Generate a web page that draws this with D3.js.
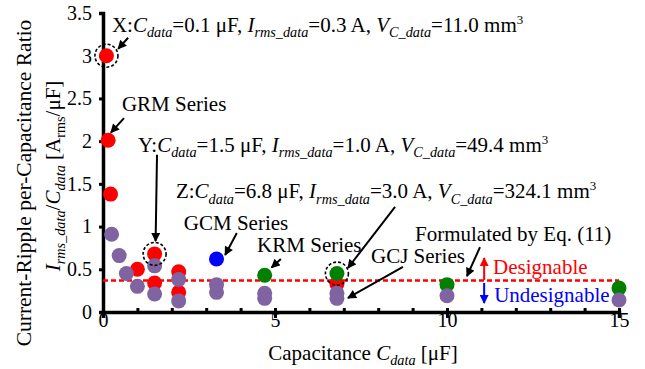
<!DOCTYPE html>
<html>
<head>
<meta charset="utf-8">
<script src="https://cdn.jsdelivr.net/npm/d3@7"></script>
<style>
  body { margin: 0; background: #fff; }
  svg { display: block; font-family: "Liberation Serif", "Times New Roman", serif; }
</style>
</head>
<body>
<svg id="chart"></svg>
<script>
'use strict';
// capacitance [uF] and ratio [Arms/uF] per series
const GRM_C = [0.1, 0.15, 0.22, 1.0, 1.5, 1.5, 2.2, 2.2, 6.8];
const GRM_R = [3.0, 2.01, 1.38, 0.50, 0.68, 0.34, 0.47, 0.23, 0.33];
const KRM_C = [4.7, 6.8, 10, 15];
const KRM_R = [0.43, 0.45, 0.32, 0.28];
const GCM_C = [3.3];
const GCM_R = [0.62];
const GCJ_C = [0.25, 0.47, 0.68, 1.0, 1.5, 1.5, 2.2, 2.2, 3.3, 3.3, 4.7, 4.7, 6.8, 6.8, 10, 15];
const GCJ_R = [0.91, 0.66, 0.45, 0.30, 0.54, 0.21, 0.38, 0.13, 0.32, 0.23, 0.22, 0.16, 0.22, 0.16, 0.19, 0.14];
const LIMIT = 0.37;
const X_TICKS = [0, 5, 10, 15];
const X_MINOR = [1, 2, 3, 4, 6, 7, 8, 9, 11, 12, 13, 14];
const Y_TICKS = [0, 0.5, 1, 1.5, 2, 2.5, 3, 3.5];
const MARKED = [[0.1, 3.0], [1.5, 0.68], [6.8, 0.45]];

const WIDTH = 645, HEIGHT = 369;
const svg = d3.select('#chart').attr('width', WIDTH).attr('height', HEIGHT);

const x = d3.scaleLinear().domain([0, 15]).range([103, 619]);
const y = d3.scaleLinear().domain([0, 3.5]).range([312, 13]);

// rich text: segments of [text, style]; style: '' | 'i' | 'si' (sub italic) | 's' (sub) | 'p' (sup)
function rich(textSel, segs, size) {
  let cur = 0;
  segs.forEach(function(s) {
    let style = s[1] || '';
    let target = 0, fs = size;
    if (style.indexOf('s') > -1) { target = size * 0.25; fs = size * 0.68; }
    if (style === 'p') { target = -size * 0.38; fs = size * 0.62; }
    textSel.append('tspan')
      .attr('dy', target - cur)
      .attr('font-size', fs)
      .attr('font-style', style.indexOf('i') > -1 ? 'italic' : 'normal')
      .text(s[0]);
    cur = target;
  });
}

// markers
const defs = svg.append('defs');
[['arrBlack', '#000'], ['arrRed', '#ff0000'], ['arrBlue', '#0000ff']].forEach(function(m) {
  defs.append('marker')
    .attr('id', m[0])
    .attr('markerUnits', 'userSpaceOnUse')
    .attr('viewBox', '0 0 10 10')
    .attr('refX', 9).attr('refY', 5)
    .attr('markerWidth', 10).attr('markerHeight', 9)
    .attr('orient', 'auto')
    .append('path').attr('d', 'M0,0 L10,5 L0,10 z').attr('fill', m[1]);
});

// axes
const xAxis = svg.append('g').attr('transform', 'translate(0,' + y(0) + ')')
  .call(d3.axisBottom(x).tickValues(X_TICKS).tickSizeOuter(0).tickSize(6).tickFormat(d3.format('d')));
xAxis.selectAll('.tick line').attr('y1', -4).attr('stroke-width', 3);
xAxis.selectAll('.tick text').attr('y', 15).attr('dy', 0).attr('font-size', 20)
  .attr('font-family', '"Liberation Serif", serif');

const xMinor = svg.append('g').attr('transform', 'translate(0,' + y(0) + ')')
  .call(d3.axisTop(x).tickValues(X_MINOR).tickSizeOuter(0).tickSize(4).tickFormat(''));
xMinor.selectAll('.tick line').attr('stroke-width', 3);
xMinor.select('.domain').remove();

const yAxis = svg.append('g').attr('transform', 'translate(' + x(0) + ',0)')
  .call(d3.axisLeft(y).tickValues(Y_TICKS).tickSizeOuter(0).tickSize(4).tickPadding(7)
    .tickFormat(function(d) { return String(d); }));
yAxis.selectAll('.tick line').attr('stroke-width', 3);
yAxis.selectAll('.tick text').attr('font-size', 20).attr('font-family', '"Liberation Serif", serif');

[xAxis, yAxis].forEach(function(a) {
  a.select('.domain').attr('stroke-width', 3.5);
});

// limit line
svg.append('line')
  .attr('x1', x(0)).attr('x2', x(15))
  .attr('y1', y(LIMIT)).attr('y2', y(LIMIT))
  .attr('stroke', '#ff0000').attr('stroke-width', 2.5)
  .attr('stroke-dasharray', '5,3');

// points
function series(cs, rs, color) {
  svg.append('g').selectAll('circle')
    .data(cs.map(function(c, i) { return [c, rs[i]]; }))
    .enter().append('circle')
    .attr('cx', function(d) { return x(d[0]); })
    .attr('cy', function(d) { return y(d[1]); })
    .attr('r', 7.5)
    .attr('fill', color);
}
series(GRM_C, GRM_R, '#ff0000');
series(KRM_C, KRM_R, '#008000');
series(GCM_C, GCM_R, '#0000ff');
series(GCJ_C, GCJ_R, '#8064a2');

// dashed rings on the example points
svg.append('g').selectAll('circle')
  .data(MARKED).enter().append('circle')
  .attr('cx', function(d) { return x(d[0]); })
  .attr('cy', function(d) { return y(d[1]); })
  .attr('r', 11.5)
  .attr('fill', 'none').attr('stroke', '#000').attr('stroke-width', 1.6)
  .attr('stroke-dasharray', '3,2');

// annotation arrows, data coords [from, to]
const ARROWS = [
  [[0.73, 3.21], [0.44, 3.08], 'arrBlack', '#000'],
  [[0.61, 2.27], [0.23, 2.10], 'arrBlack', '#000'],
  [[1.57, 1.84], [1.53, 0.83], 'arrBlack', '#000'],
  [[8.49, 1.23], [7.12, 0.515], 'arrBlack', '#000'],
  [[3.89, 0.925], [3.55, 0.667], 'arrBlack', '#000'],
  [[5.17, 0.62], [4.90, 0.52], 'arrBlack', '#000'],
  [[8.72, 0.527], [7.12, 0.164], 'arrBlack', '#000'],
  [[10.96, 0.76], [10.58, 0.42], 'arrBlack', '#000'],
  [[11.08, 0.375], [11.08, 0.632], 'arrRed', '#ff0000'],
  [[11.08, 0.34], [11.08, 0.105], 'arrBlue', '#0000ff']
];
svg.append('g').selectAll('line')
  .data(ARROWS).enter().append('line')
  .attr('x1', function(d) { return x(d[0][0]); })
  .attr('y1', function(d) { return y(d[0][1]); })
  .attr('x2', function(d) { return x(d[1][0]); })
  .attr('y2', function(d) { return y(d[1][1]); })
  .attr('stroke', function(d) { return d[3]; })
  .attr('stroke-width', 2)
  .attr('marker-end', function(d) { return 'url(#' + d[2] + ')'; });

// annotation texts
const FS = 21;
function note(c, r, segs, color) {
  let t = svg.append('text')
    .attr('x', x(c)).attr('y', y(r))
    .attr('font-size', FS)
    .attr('fill', color || '#000');
  rich(t, segs, FS);
}
function example(tag, cVal, iVal, vVal) {
  return [[tag + ':'], ['C', 'i'], ['data', 'si'], ['=' + cVal + ' \u03bcF, '], ['I', 'i'], ['rms_data', 'si'],
    ['=' + iVal + ' A, '], ['V', 'i'], ['C_data', 'si'], ['=' + vVal + ' mm'], ['3', 'p']];
}
note(0.26, 3.28, example('X', '0.1', '0.3', '11.0'));
note(0.55, 2.35, [['GRM Series']]);
note(1.02, 1.87, example('Y', '1.5', '1.0', '49.4'));
note(2.12, 1.33, example('Z', '6.8', '3.0', '324.1'));
note(2.35, 0.96, [['GCM Series']]);
note(4.48, 0.70, [['KRM Series']]);
note(7.79, 0.57, [['GCJ Series']]);
note(9.07, 0.83, [['Formulated by Eq. (11)']]);
note(11.34, 0.445, [['Designable']], '#ff0000');
note(11.37, 0.117, [['Undesignable']], '#0000ff');

// axis titles
const xt = svg.append('text')
  .attr('x', 363).attr('y', 360)
  .attr('text-anchor', 'middle').attr('font-size', FS);
rich(xt, [['Capacitance '], ['C', 'i'], ['data', 'si'], [' [\u03bcF]']], FS);

svg.append('text')
  .attr('transform', 'translate(31,183) rotate(-90)')
  .attr('text-anchor', 'middle').attr('font-size', 21.5)
  .text('Current-Ripple per-Capacitance Ratio');

const yt = svg.append('text')
  .attr('transform', 'translate(60,176) rotate(-90)')
  .attr('text-anchor', 'middle').attr('font-size', FS);
rich(yt, [['I', 'i'], ['rms_data', 'si'], ['/'], ['C', 'i'], ['data', 'si'], [' [A'], ['rms', 's'], ['/\u03bcF]']], FS);
</script>
</body>
</html>
